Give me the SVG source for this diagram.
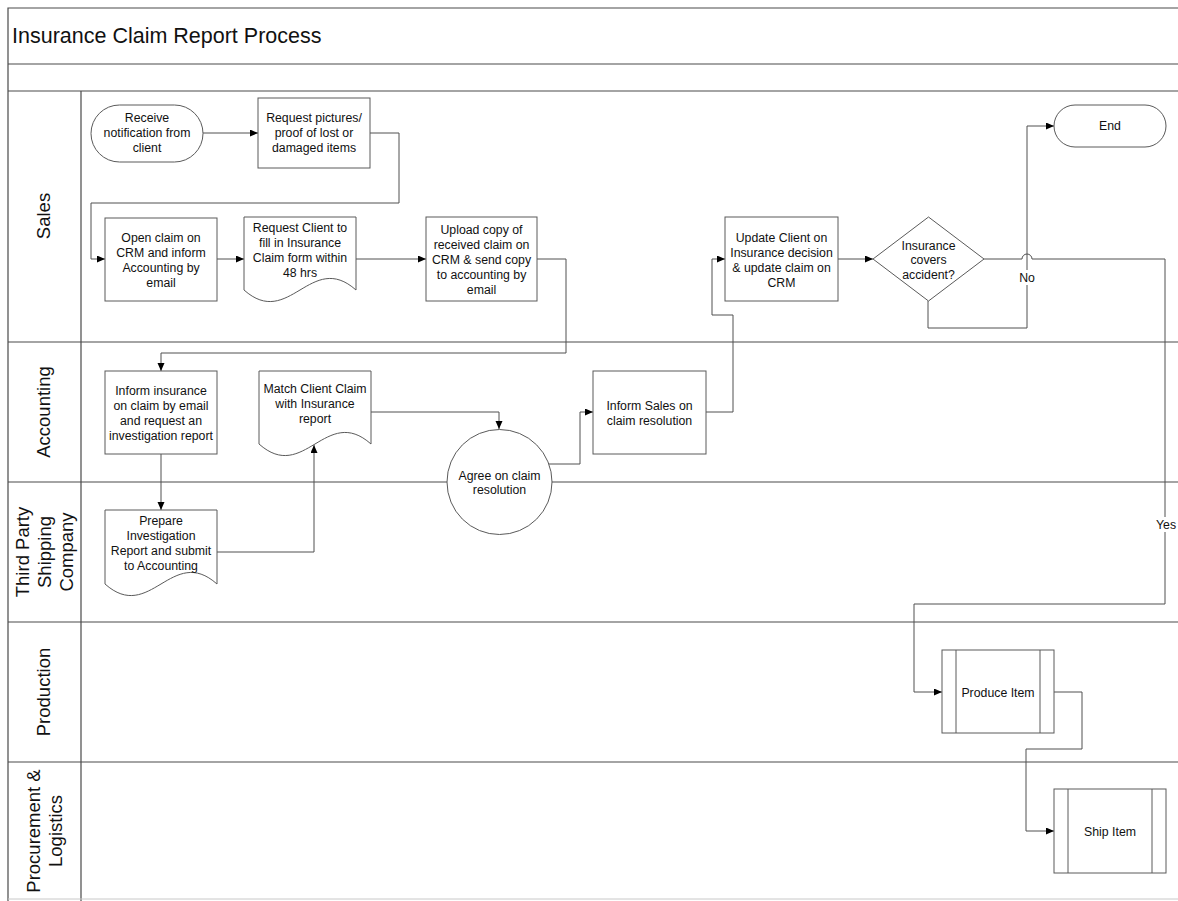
<svg xmlns="http://www.w3.org/2000/svg" width="1178" height="901" viewBox="0 0 1178 901">
  <defs>
    <marker id="arrow" markerUnits="userSpaceOnUse" markerWidth="9" markerHeight="8" refX="8" refY="3.5" orient="auto">
      <path d="M0,0 L8,3.5 L0,7 Z" fill="#000"/>
    </marker>
    <style>
      .frame { stroke: #4a4a4a; stroke-width: 1.2; fill: none; }
      .shape { fill: #fff; stroke: #5a5a5a; stroke-width: 1; }
      .inner { stroke: #5a5a5a; stroke-width: 1; }
      .conn { fill: none; stroke: #505050; stroke-width: 1; marker-end: url(#arrow); }
      .txt { font-family: "Liberation Sans", Arial, sans-serif; font-size: 12.3px; fill: #111; text-anchor: middle; }
      .lane { font-family: "Liberation Sans", Arial, sans-serif; font-size: 18.5px; fill: #111; text-anchor: middle; }
      .title { font-family: "Liberation Sans", Arial, sans-serif; font-size: 21.5px; fill: #111; }
      .lbl { fill: #fff; }
    </style>
  </defs>

  <rect width="1178" height="901" fill="#fff"/>

  <!-- pool frame, title band and swimlanes -->
  <g id="frame">
    <path class="frame" d="M8,901 V8 H1178"/>
    <path class="frame" d="M8,64 H1178 M8,91 H1178 M81,91 V901"/>
    <path class="frame" d="M8,342 H1178 M8,482 H1178 M8,622 H1178 M8,762 H1178"/>
    <path d="M8,899 H1178" stroke="#c8c8c8" stroke-width="1"/>
    <text class="title" x="12" y="43">Insurance Claim Report Process</text>
  </g>

  <g id="lane-labels">
    <text class="lane" transform="translate(50,216) rotate(-90)">Sales</text>
    <text class="lane" transform="translate(50,412) rotate(-90)">Accounting</text>
    <text class="lane" transform="translate(28.5,552) rotate(-90)">Third Party</text>
    <text class="lane" transform="translate(50.5,552) rotate(-90)">Shipping</text>
    <text class="lane" transform="translate(72.5,552) rotate(-90)">Company</text>
    <text class="lane" transform="translate(50,692) rotate(-90)">Production</text>
    <text class="lane" transform="translate(39.5,831) rotate(-90)">Procurement &amp;</text>
    <text class="lane" transform="translate(61.5,831) rotate(-90)">Logistics</text>
  </g>

  <!-- connectors -->
  <g id="connectors">
    <path class="conn" d="M203,133 H258"/>
    <path class="conn" d="M370,133 H399 V203 H91 V259 H105"/>
    <path class="conn" d="M217,259 H244"/>
    <path class="conn" d="M356,259 H426"/>
    <path class="conn" d="M537,259 H566 V353 H161 V371"/>
    <path class="conn" d="M161,454 V510"/>
    <path class="conn" d="M217,552 H314 V445"/>
    <path class="conn" d="M371,412 H499 V429"/>
    <path class="conn" d="M549,464 H580 V412 H593"/>
    <path class="conn" d="M706,412 H733 V315 H712 V259 H725"/>
    <path class="conn" d="M838,259 H873"/>
    <path class="conn" d="M928,301 V328 H1027 V126 H1054"/>
    <path class="conn" d="M984,259 H1022 A5,5 0 0 1 1032,259 H1165 V604 H914 V692 H942"/>
    <path class="conn" d="M1054,692 H1082 V749 H1026 V831 H1054"/>
    <rect class="lbl" x="1016" y="270" width="22" height="15"/>
    <text class="txt" x="1027" y="281.5">No</text>
    <rect class="lbl" x="1152" y="517" width="26" height="15"/>
    <text class="txt" x="1166" y="528.5">Yes</text>
  </g>

  <!-- Sales -->
  <g id="receive-notification">
    <rect class="shape" x="91" y="105" width="112" height="57" rx="28.5"/>
    <text class="txt" x="147" y="122">Receive</text>
    <text class="txt" x="147" y="137">notification from</text>
    <text class="txt" x="147" y="152">client</text>
  </g>
  <g id="request-pictures">
    <rect class="shape" x="258" y="98" width="112" height="70"/>
    <text class="txt" x="314" y="122">Request pictures/</text>
    <text class="txt" x="314" y="137">proof of lost or</text>
    <text class="txt" x="314" y="152">damaged items</text>
  </g>
  <g id="open-claim">
    <rect class="shape" x="105" y="218" width="112" height="83"/>
    <text class="txt" x="161" y="241.5">Open claim on</text>
    <text class="txt" x="161" y="256.5">CRM and inform</text>
    <text class="txt" x="161" y="271.5">Accounting by</text>
    <text class="txt" x="161" y="286.5">email</text>
  </g>
  <g id="request-client">
    <path class="shape" d="M244,217 H356 V290 C311,250 289,330 244,290 Z"/>
    <text class="txt" x="300" y="231.5">Request Client to</text>
    <text class="txt" x="300" y="246.5">fill in Insurance</text>
    <text class="txt" x="300" y="261.5">Claim form within</text>
    <text class="txt" x="300" y="276.5">48 hrs</text>
  </g>
  <g id="upload-copy">
    <rect class="shape" x="426" y="217" width="111" height="84"/>
    <text class="txt" x="481.5" y="233.5">Upload copy of</text>
    <text class="txt" x="481.5" y="248.5">received claim on</text>
    <text class="txt" x="481.5" y="263.5">CRM &amp; send copy</text>
    <text class="txt" x="481.5" y="278.5">to accounting by</text>
    <text class="txt" x="481.5" y="293.5">email</text>
  </g>
  <g id="update-client">
    <rect class="shape" x="725" y="217" width="113" height="84"/>
    <text class="txt" x="781.5" y="241.5">Update Client on</text>
    <text class="txt" x="781.5" y="256.5">Insurance decision</text>
    <text class="txt" x="781.5" y="271.5">&amp; update claim on</text>
    <text class="txt" x="781.5" y="286.5">CRM</text>
  </g>
  <g id="insurance-covers">
    <path class="shape" d="M928.5,217 L984,259 L928.5,301 L873,259 Z"/>
    <text class="txt" x="928.5" y="249.5">Insurance</text>
    <text class="txt" x="928.5" y="264">covers</text>
    <text class="txt" x="928.5" y="278.5">accident?</text>
  </g>
  <g id="end">
    <rect class="shape" x="1054" y="105" width="112" height="42" rx="21"/>
    <text class="txt" x="1110" y="130">End</text>
  </g>

  <!-- Accounting -->
  <g id="inform-insurance">
    <rect class="shape" x="105" y="371" width="112" height="83"/>
    <text class="txt" x="161" y="394.5">Inform insurance</text>
    <text class="txt" x="161" y="409.5">on claim by email</text>
    <text class="txt" x="161" y="424.5">and request an</text>
    <text class="txt" x="161" y="439.5">investigation report</text>
  </g>
  <g id="match-claim">
    <path class="shape" d="M259,371 H371 V444 C326,404 304,484 259,444 Z"/>
    <text class="txt" x="315" y="392.5">Match Client Claim</text>
    <text class="txt" x="315" y="407.5">with Insurance</text>
    <text class="txt" x="315" y="422.5">report</text>
  </g>
  <g id="inform-sales">
    <rect class="shape" x="593" y="371" width="113" height="83"/>
    <text class="txt" x="649.5" y="409.5">Inform Sales on</text>
    <text class="txt" x="649.5" y="424.5">claim resolution</text>
  </g>
  <g id="agree-resolution">
    <circle class="shape" cx="499.5" cy="482" r="52.5"/>
    <text class="txt" x="499.5" y="479.5">Agree on claim</text>
    <text class="txt" x="499.5" y="494">resolution</text>
  </g>

  <!-- Third Party Shipping Company -->
  <g id="prepare-report">
    <path class="shape" d="M105,510 H217 V584 C172,544 150,624 105,584 Z"/>
    <text class="txt" x="161" y="524.5">Prepare</text>
    <text class="txt" x="161" y="539.5">Investigation</text>
    <text class="txt" x="161" y="554.5">Report and submit</text>
    <text class="txt" x="161" y="569.5">to Accounting</text>
  </g>

  <!-- Production -->
  <g id="produce-item">
    <rect class="shape" x="942" y="650" width="112" height="83"/>
    <path class="inner" d="M956,650 V733 M1040,650 V733"/>
    <text class="txt" x="998" y="696.5">Produce Item</text>
  </g>

  <!-- Procurement & Logistics -->
  <g id="ship-item">
    <rect class="shape" x="1054" y="789" width="112" height="84"/>
    <path class="inner" d="M1068,789 V873 M1152,789 V873"/>
    <text class="txt" x="1110" y="835.5">Ship Item</text>
  </g>
</svg>
